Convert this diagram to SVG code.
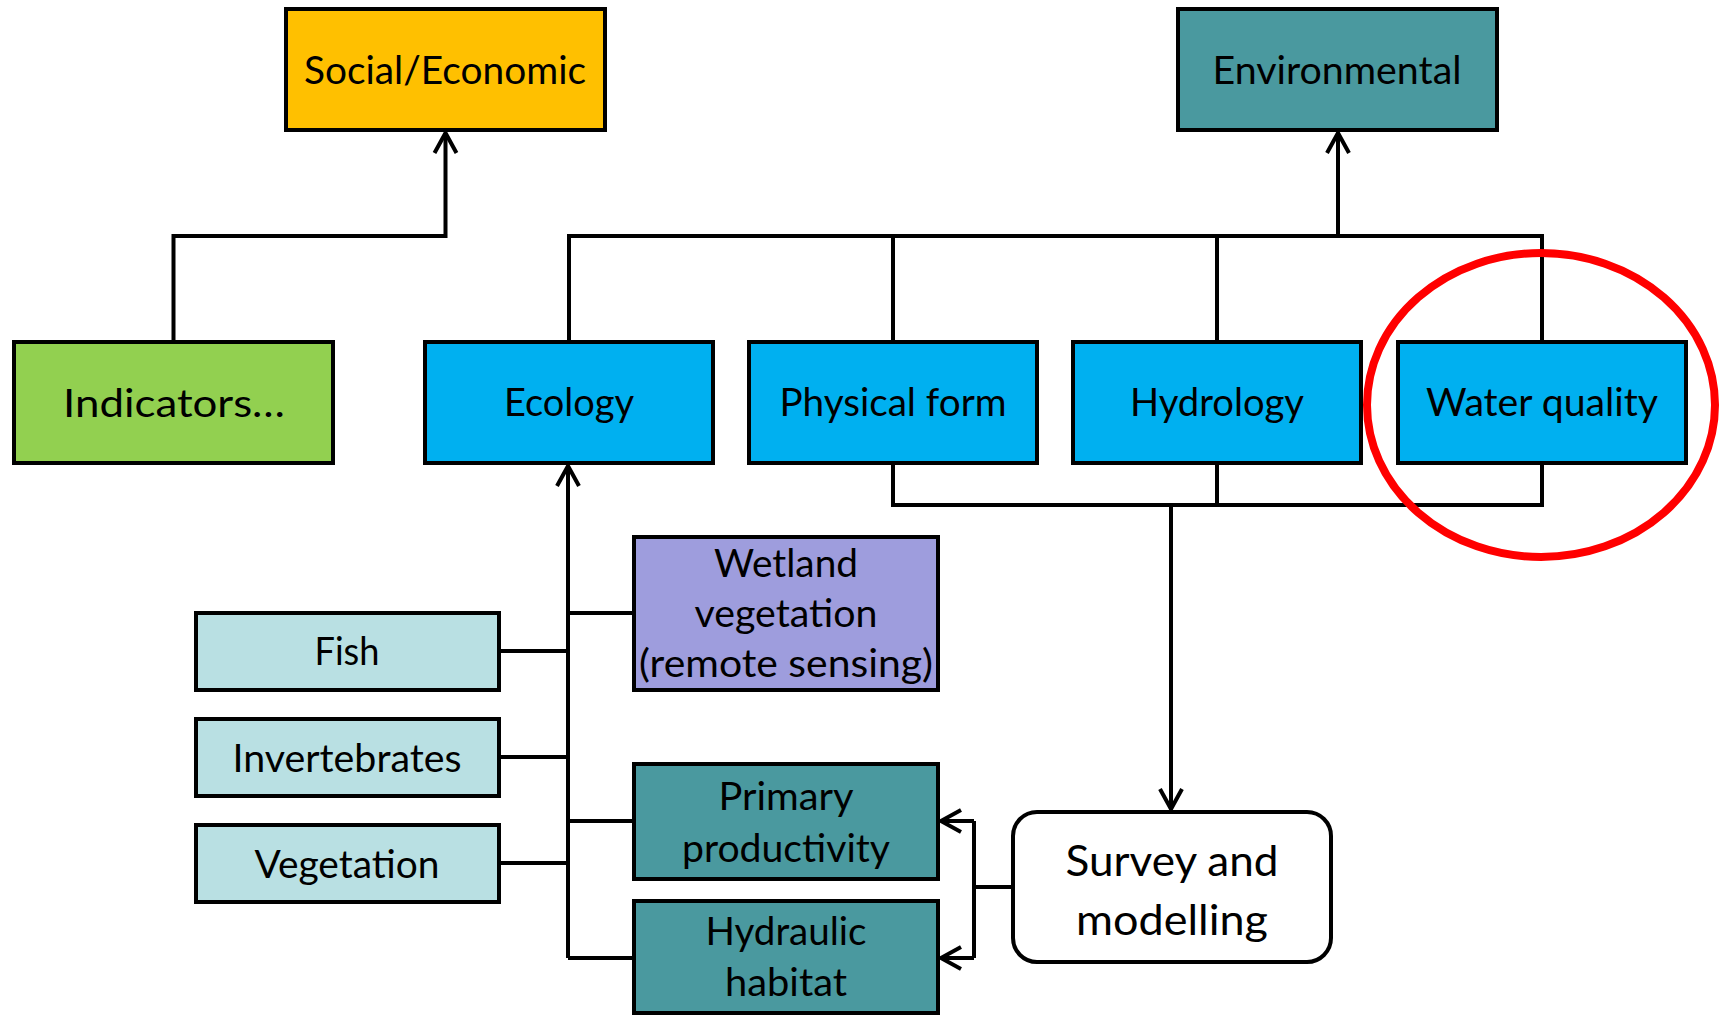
<svg xmlns="http://www.w3.org/2000/svg" width="1725" height="1015" viewBox="0 0 1725 1015">
<style>
.box{stroke:#000;stroke-width:4}
.t{font-family:Lato,"Liberation Sans",sans-serif;font-size:38px;fill:#000;text-anchor:middle}
.big{font-size:43px}
.ln{fill:none;stroke:#000;stroke-width:4}
.arr{marker-end:url(#ah)}
.soc{fill:#FFC000}.env{fill:#4A999F}.ind{fill:#92D050}.blu{fill:#00B0F0}.lb{fill:#B9E0E3}.pur{fill:#9E9DDD}.wht{fill:#fff}
</style>
<defs>
<marker id="ah" markerUnits="userSpaceOnUse" viewBox="-24 -14 28 28" refX="0" refY="0" markerWidth="28" markerHeight="28" orient="auto" overflow="visible">
<path d="M-20,-11 L0,0 L-20,11" fill="none" stroke="#000" stroke-width="4"/>
</marker>
</defs>
<rect width="1725" height="1015" fill="#fff"/>
<g id="connectors">
<path class="ln arr" d="M173.5,342 V236 H445.5 V133"/>
<path class="ln" d="M569,342 V236 H1542 V342 M893,236 V342 M1217,236 V342"/>
<path class="ln arr" d="M1338,236 V133"/>
<path class="ln" d="M893,463 V505 H1542 V463 M1217,463 V505"/>
<path class="ln arr" d="M1171,505 V809"/>
<path class="ln arr" d="M568,958 V466"/>
<path class="ln" d="M499,651 H568 M499,757 H568 M499,863 H568 M568,613 H634 M568,821 H634 M568,958 H634"/>
<path class="ln" d="M1013,887 H974 M974,821 V958"/>
<path class="ln arr" d="M974,821 H941"/>
<path class="ln arr" d="M974,958 H941"/>
</g>
<g id="social"><rect class="box soc" x="286" y="9" width="319" height="121"/><text class="t" x="445" y="84" textLength="282" lengthAdjust="spacingAndGlyphs">Social/Economic</text></g>
<g id="environmental"><rect class="box env" x="1178" y="9" width="319" height="121"/><text class="t" x="1337" y="84" textLength="249" lengthAdjust="spacingAndGlyphs">Environmental</text></g>
<g id="indicators"><rect class="box ind" x="14" y="342" width="319" height="121"/><text class="t" x="174" y="417" textLength="222" lengthAdjust="spacingAndGlyphs">Indicators…</text></g>
<g id="ecology"><rect class="box blu" x="425" y="342" width="288" height="121"/><text class="t" x="569" y="416" textLength="130" lengthAdjust="spacingAndGlyphs">Ecology</text></g>
<g id="physical-form"><rect class="box blu" x="749" y="342" width="288" height="121"/><text class="t" x="893" y="416" textLength="227" lengthAdjust="spacingAndGlyphs">Physical form</text></g>
<g id="hydrology"><rect class="box blu" x="1073" y="342" width="288" height="121"/><text class="t" x="1217" y="416" textLength="174" lengthAdjust="spacingAndGlyphs">Hydrology</text></g>
<g id="water-quality"><rect class="box blu" x="1398" y="342" width="288" height="121"/><text class="t" x="1542" y="416" textLength="232" lengthAdjust="spacingAndGlyphs">Water quality</text></g>
<g id="wetland"><rect class="box pur" x="634" y="537" width="304" height="153"/>
<text class="t" x="786" y="577" textLength="144" lengthAdjust="spacingAndGlyphs">Wetland</text>
<text class="t" x="786" y="627" textLength="183" lengthAdjust="spacingAndGlyphs">vegetation</text>
<text class="t" x="786" y="677" textLength="294" lengthAdjust="spacingAndGlyphs">(remote sensing)</text></g>
<g id="fish"><rect class="box lb" x="196" y="613" width="303" height="77"/><text class="t" x="347" y="665" textLength="65" lengthAdjust="spacingAndGlyphs">Fish</text></g>
<g id="invertebrates"><rect class="box lb" x="196" y="719" width="303" height="77"/><text class="t" x="347" y="772" textLength="229" lengthAdjust="spacingAndGlyphs">Invertebrates</text></g>
<g id="vegetation"><rect class="box lb" x="196" y="825" width="303" height="77"/><text class="t" x="347" y="878" textLength="185" lengthAdjust="spacingAndGlyphs">Vegetation</text></g>
<g id="primary-productivity"><rect class="box env" x="634" y="764" width="304" height="115"/>
<text class="t" x="786" y="810" textLength="135" lengthAdjust="spacingAndGlyphs">Primary</text>
<text class="t" x="786" y="862" textLength="208" lengthAdjust="spacingAndGlyphs">productivity</text></g>
<g id="hydraulic-habitat"><rect class="box env" x="634" y="901" width="304" height="112"/>
<text class="t" x="786" y="945" textLength="161" lengthAdjust="spacingAndGlyphs">Hydraulic</text>
<text class="t" x="786" y="996" textLength="122" lengthAdjust="spacingAndGlyphs">habitat</text></g>
<g id="survey"><rect class="box wht" x="1013" y="812" width="318" height="150" rx="24"/>
<text class="t big" x="1172" y="876" textLength="213" lengthAdjust="spacingAndGlyphs">Survey and</text>
<text class="t big" x="1172" y="935" textLength="192" lengthAdjust="spacingAndGlyphs">modelling</text></g>
<g id="highlight"><ellipse cx="1541" cy="405" rx="174" ry="152" fill="none" stroke="#FF0000" stroke-width="8"/></g>
</svg>
